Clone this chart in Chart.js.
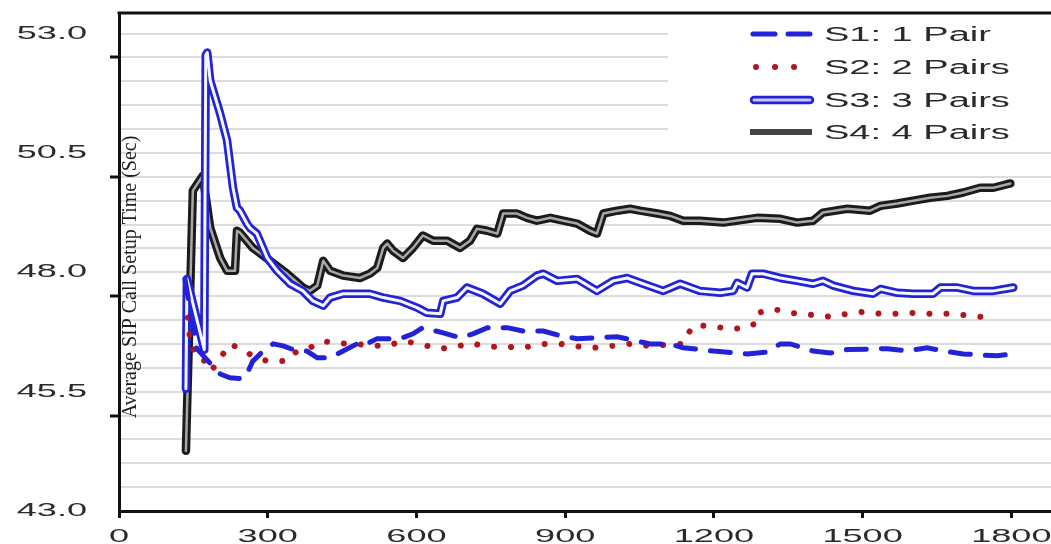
<!DOCTYPE html>
<html>
<head>
<meta charset="utf-8">
<script src="https://cdn.jsdelivr.net/npm/chart.js@4.4.1/dist/chart.umd.min.js"></script>
<style>
  html, body { margin: 0; padding: 0; background: #ffffff; }
  #wrap { width: 1051px; height: 544px; }
</style>
</head>
<body>
<div id="wrap"><canvas id="c" width="1051" height="544"></canvas></div>
<script>
// ---- Data ----
const seriesNames = ["S1: 1 Pair", "S2: 2 Pairs", "S3: 3 Pairs", "S4: 4 Pairs"];
const xTickValues = [0, 300, 600, 900, 1200, 1500, 1800];
const yTickValues = [43.0, 45.5, 48.0, 50.5, 53.0];
const axisTitle = "Average SIP Call Setup Time (Sec)";

const s1X = [133,157,185,204,224,250,258,270,291,311,331,359,379,400,426,452,480,492,521,567,593,613,654,688,714,743,783,815,856,890,924,964,1005,1045,1071,1112,1138,1199,1267,1307,1334,1354,1400,1435,1469,1550,1590,1630,1663,1703,1772,1802];
const s1Y = [47.86,46.40,46.08,45.87,45.79,45.77,45.87,46.14,46.35,46.50,46.46,46.35,46.35,46.21,46.21,46.35,46.50,46.46,46.61,46.61,46.71,46.84,46.73,46.63,46.71,46.84,46.84,46.77,46.77,46.67,46.61,46.63,46.65,46.56,46.50,46.50,46.42,46.35,46.29,46.33,46.50,46.50,46.35,46.31,46.38,46.40,46.35,46.42,46.35,46.29,46.25,46.29];

const s2X = [139,145,163,178,184,198,210,224,244,270,299,339,359,385,412,446,466,506,541,573,607,642,674,708,743,783,815,854,890,930,964,997,1031,1071,1138,1148,1158,1193,1227,1259,1287,1289,1320,1354,1394,1435,1469,1501,1536,1570,1602,1642,1677,1717,1757];
const s2Y = [47.05,46.40,46.35,46.00,45.93,46.08,46.29,46.50,46.40,46.25,46.14,46.14,46.35,46.42,46.56,46.50,46.52,46.46,46.46,46.56,46.50,46.40,46.42,46.52,46.44,46.44,46.42,46.50,46.50,46.44,46.42,46.46,46.50,46.46,46.50,46.71,46.88,46.88,46.82,46.82,46.94,47.15,47.23,47.15,47.11,47.07,47.13,47.17,47.13,47.13,47.15,47.13,47.13,47.09,47.05];

const s3X = [135,137,172,175,178,184,204,218,230,238,244,258,264,278,299,319,345,371,391,412,426,452,486,506,533,567,601,621,648,654,682,702,734,769,789,815,843,856,884,924,964,997,1025,1057,1098,1132,1172,1213,1239,1247,1267,1277,1299,1334,1368,1400,1420,1441,1481,1521,1536,1570,1602,1642,1657,1691,1723,1764,1804];
const s3Y = [45.56,47.86,46.38,52.55,52.60,52.01,51.32,50.76,49.77,49.35,49.29,49.02,48.93,48.81,48.30,48.03,47.76,47.61,47.40,47.30,47.47,47.55,47.55,47.55,47.47,47.40,47.26,47.15,47.13,47.40,47.47,47.68,47.55,47.34,47.61,47.72,47.93,47.97,47.82,47.86,47.61,47.82,47.88,47.76,47.61,47.76,47.61,47.57,47.61,47.78,47.68,47.97,47.97,47.88,47.82,47.76,47.82,47.72,47.61,47.55,47.65,47.57,47.55,47.55,47.68,47.68,47.61,47.61,47.68];

const s4X = [135,149,169,184,204,218,234,238,244,270,305,339,371,385,400,412,426,452,486,506,521,533,541,553,573,593,613,634,662,688,708,722,743,763,775,803,823,843,870,896,924,950,964,977,1005,1031,1051,1086,1112,1138,1172,1219,1287,1334,1368,1400,1420,1469,1515,1536,1570,1602,1636,1671,1703,1737,1764,1798];
const s4Y = [44.26,49.71,50.02,48.93,48.30,48.03,48.03,48.87,48.83,48.51,48.24,47.97,47.68,47.61,47.72,48.24,48.03,47.93,47.88,47.97,48.09,48.51,48.60,48.45,48.30,48.51,48.77,48.66,48.66,48.51,48.66,48.91,48.87,48.81,49.23,49.23,49.14,49.08,49.14,49.08,49.02,48.87,48.81,49.23,49.29,49.33,49.29,49.23,49.18,49.08,49.08,49.04,49.14,49.12,49.04,49.08,49.25,49.33,49.29,49.39,49.44,49.50,49.56,49.60,49.67,49.77,49.77,49.86];

// ---- helpers ----
function pts(xs, ys) { return xs.map((x, i) => ({ x: x, y: ys[i] })); }
const SX = 1.9; // horizontal widening of the text, as in the reference
const BLUE = '#2222d8';
const RED = '#b3161a';
const TEXT = '#2a2a2a';

const styles = [
  { color: BLUE, width: 5, dash: [20, 15] },
  { color: RED, width: 6, dash: [0.01, 17] },
  { color: BLUE, width: 8.5, inner: '#f6f6ff', innerWidth: 3 },
  { color: '#1b1b1b', width: 8.5, inner: '#a8a8a8', innerWidth: 2.5 }
];

const datasets = [
  { label: seriesNames[0], data: pts(s1X, s1Y), borderColor: styles[0].color, borderWidth: styles[0].width,
    borderDash: styles[0].dash, borderCapStyle: 'round', order: 0 },
  { label: seriesNames[1], data: pts(s2X, s2Y), borderColor: styles[1].color, borderWidth: styles[1].width,
    borderDash: styles[1].dash, borderCapStyle: 'round', order: 1 },
  { label: seriesNames[2] + ' (core)', data: pts(s3X, s3Y), borderColor: styles[2].inner, borderWidth: styles[2].innerWidth,
    borderCapStyle: 'round', borderJoinStyle: 'round', order: 2 },
  { label: seriesNames[2], data: pts(s3X, s3Y), borderColor: styles[2].color, borderWidth: styles[2].width,
    borderCapStyle: 'round', borderJoinStyle: 'round', order: 3 },
  { label: seriesNames[3] + ' (core)', data: pts(s4X, s4Y), borderColor: styles[3].inner, borderWidth: styles[3].innerWidth,
    borderCapStyle: 'round', borderJoinStyle: 'round', order: 4 },
  { label: seriesNames[3], data: pts(s4X, s4Y), borderColor: styles[3].color, borderWidth: styles[3].width,
    borderCapStyle: 'round', borderJoinStyle: 'round', order: 5 }
];
datasets.forEach(d => { d.pointRadius = 0; d.tension = 0; d.fill = false; d.clip = 6; });

function isMajorY(v) { return Math.abs(v / 2.5 - Math.round(v / 2.5)) < 1e-6; }

const widenText = {
  id: 'widenText',
  beforeDraw(chart) {
    const ctx = chart.ctx;
    const orig = CanvasRenderingContext2D.prototype.fillText;
    ctx.fillText = function (t, x, y) {
      this.save();
      this.translate(x, y);
      this.scale(SX, 1);
      orig.call(this, t, 0, 0);
      this.restore();
    };
  },
  afterDraw(chart) {
    const ctx = chart.ctx;
    const a = chart.chartArea;
    const orig = CanvasRenderingContext2D.prototype.fillText;

    // legend box (white, covers the grid)
    ctx.save();
    ctx.fillStyle = '#ffffff';
    ctx.fillRect(668, a.top + 2, 1051 - 668, 133);
    const rows = [34, 67, 100, 132];
    for (let i = 0; i < 4; i++) {
      const y = rows[i];
      const s = styles[i];
      ctx.save();
      ctx.lineCap = 'round';
      if (i === 0) {
        ctx.strokeStyle = s.color; ctx.lineWidth = 5; ctx.setLineDash([22, 13]);
        ctx.beginPath(); ctx.moveTo(753, y); ctx.lineTo(812, y); ctx.stroke();
      } else if (i === 1) {
        ctx.strokeStyle = s.color; ctx.lineWidth = 6; ctx.setLineDash([0.01, 19]);
        ctx.beginPath(); ctx.moveTo(756, y); ctx.lineTo(812, y); ctx.stroke();
      } else if (i === 2) {
        ctx.strokeStyle = s.color; ctx.lineWidth = 8.5;
        ctx.beginPath(); ctx.moveTo(754, y); ctx.lineTo(810, y); ctx.stroke();
        ctx.strokeStyle = '#c9c9ff'; ctx.lineWidth = 3;
        ctx.beginPath(); ctx.moveTo(754, y); ctx.lineTo(810, y); ctx.stroke();
      } else {
        ctx.lineCap = 'butt';
        ctx.strokeStyle = '#444444'; ctx.lineWidth = 6;
        ctx.beginPath(); ctx.moveTo(750, y); ctx.lineTo(812, y); ctx.stroke();
      }
      ctx.restore();
      ctx.fillStyle = TEXT;
      ctx.font = '20px "Liberation Sans", Arial, sans-serif';
      ctx.textAlign = 'left';
      ctx.textBaseline = 'middle';
      ctx.fillText(seriesNames[i], 824, y + 1);
    }
    ctx.restore();

    // top frame line
    ctx.save();
    ctx.strokeStyle = '#111111';
    ctx.lineWidth = 3;
    ctx.beginPath(); ctx.moveTo(a.left - 1.5, a.top); ctx.lineTo(1051, a.top); ctx.stroke();
    ctx.restore();

    // rotated axis title inside the plot
    ctx.save();
    ctx.translate(131, 277);
    ctx.rotate(-Math.PI / 2);
    ctx.font = '20px "Liberation Serif", "Times New Roman", serif';
    ctx.fillStyle = '#1e1e1e';
    ctx.textAlign = 'center';
    ctx.textBaseline = 'middle';
    orig.call(ctx, axisTitle, 0, 0);
    ctx.restore();

    delete ctx.fillText;
  }
};

function noPad(scale) {
  scale.paddingTop = 0; scale.paddingBottom = 0;
  scale.paddingLeft = 0; scale.paddingRight = 0;
}

new Chart(document.getElementById('c'), {
  type: 'line',
  data: { datasets: datasets },
  options: {
    responsive: false,
    animation: false,
    devicePixelRatio: 1,
    layout: { padding: { top: 13, right: 0, left: 0, bottom: 0 } },
    plugins: { legend: { display: false }, tooltip: { enabled: false } },
    scales: {
      x: {
        type: 'linear',
        min: 0, max: 1880,
        afterBuildTicks(scale) { scale.ticks = xTickValues.map(v => ({ value: v })); },
        afterFit(scale) { scale.height = 33; noPad(scale); },
        ticks: {
          autoSkip: false, maxRotation: 0, padding: 7,
          color: TEXT,
          font: { family: '"Liberation Sans", Arial, sans-serif', size: 19 },
          callback: v => String(v)
        },
        grid: { drawOnChartArea: false, drawTicks: true, tickLength: 7, tickWidth: 3, tickColor: '#111111' },
        border: { display: true, color: '#111111', width: 3 }
      },
      y: {
        type: 'linear',
        min: 43, max: 53.43,
        afterBuildTicks(scale) {
          const t = [];
          for (let v = 43; v <= 53.001; v += 0.5) t.push({ value: Math.round(v * 10) / 10 });
          scale.ticks = t;
        },
        afterFit(scale) { scale.width = 119; noPad(scale); },
        ticks: {
          autoSkip: false, padding: 23,
          color: TEXT,
          font: { family: '"Liberation Sans", Arial, sans-serif', size: 19 },
          callback: v => (yTickValues.some(t => Math.abs(t - v) < 1e-6) ? v.toFixed(1) : '')
        },
        grid: {
          color: '#dcdcdc', lineWidth: 2,
          drawTicks: true, tickLength: 9, tickWidth: 3,
          tickColor: c => (isMajorY(c.tick.value) ? '#111111' : 'rgba(0,0,0,0)')
        },
        border: { display: true, color: '#111111', width: 3 }
      }
    }
  },
  plugins: [widenText]
});
</script>
</body>
</html>
